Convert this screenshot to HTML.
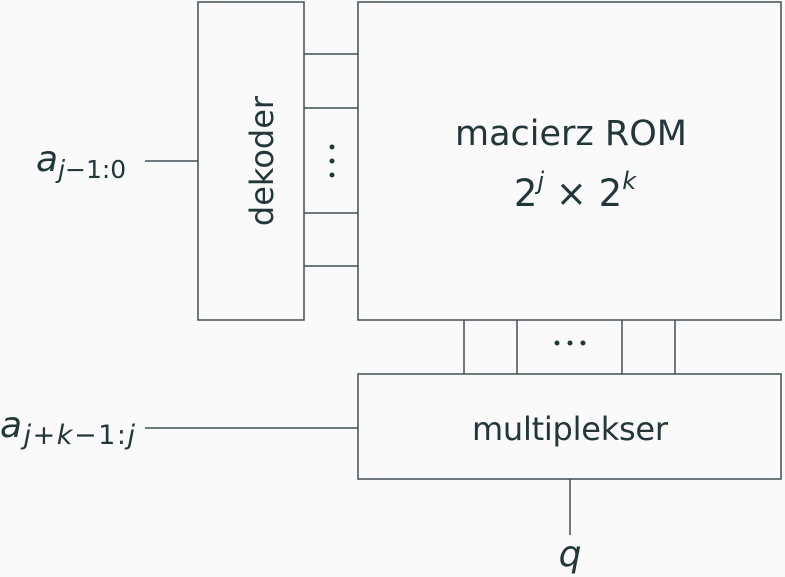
<!DOCTYPE html>
<html><head><meta charset="utf-8"><style>
html,body{margin:0;padding:0;background:#fafafa;}
svg{display:block}
text{font-family:"DejaVu Sans","Liberation Sans",sans-serif;fill:#23373b}
</style></head><body>
<svg width="785" height="577" viewBox="0 0 785 577" xmlns="http://www.w3.org/2000/svg">
<rect width="785" height="577" fill="#fafafa"/>
<g stroke="#3f5055" stroke-width="1.5" fill="#fafafa">
<rect x="198" y="2" width="106" height="318"/>
<rect x="358" y="2" width="423" height="318"/>
<rect x="358" y="374" width="423" height="105"/>
<line x1="304" y1="54" x2="358" y2="54"/>
<line x1="304" y1="108" x2="358" y2="108"/>
<line x1="304" y1="213" x2="358" y2="213"/>
<line x1="304" y1="266" x2="358" y2="266"/>
<line x1="464" y1="320" x2="464" y2="374"/>
<line x1="517" y1="320" x2="517" y2="374"/>
<line x1="622" y1="320" x2="622" y2="374"/>
<line x1="675" y1="320" x2="675" y2="374"/>
<line x1="145" y1="161" x2="198" y2="161"/>
<line x1="145" y1="428" x2="358" y2="428"/>
<line x1="570" y1="479" x2="570" y2="535"/>
</g>
<g fill="#23373b">
<circle cx="332" cy="147" r="2.5"/><circle cx="332" cy="161" r="2.5"/><circle cx="332" cy="175" r="2.5"/>
<circle cx="557" cy="343" r="2.5"/><circle cx="570" cy="343" r="2.5"/><circle cx="583" cy="343" r="2.5"/>
</g>
<text x="0" y="0" font-size="32" text-anchor="middle" transform="translate(262,161) rotate(-90)" dy="11">dekoder</text>
<text x="571" y="145" font-size="35" text-anchor="middle" textLength="232">macierz ROM</text>
<text x="575" y="206" font-size="37" text-anchor="middle">2<tspan font-size="24" dy="-17" font-style="italic">j</tspan><tspan dy="17"> × 2</tspan><tspan font-size="24" dy="-17" font-style="italic">k</tspan></text>
<text x="570" y="440" font-size="32" text-anchor="middle" textLength="196">multiplekser</text>
<text x="36" y="171" font-size="36" font-style="italic">a<tspan font-size="25" dy="7">j</tspan><tspan font-size="25" font-style="normal">−1:0</tspan></text>
<text x="0" y="437" font-size="36" font-style="italic" textLength="135">a<tspan font-size="27" dy="7">j+k</tspan><tspan font-size="27" font-style="normal">−1:</tspan><tspan font-size="27">j</tspan></text>
<text x="570" y="566" font-size="36" font-style="italic" text-anchor="middle">q</text>
</svg>
</body></html>
